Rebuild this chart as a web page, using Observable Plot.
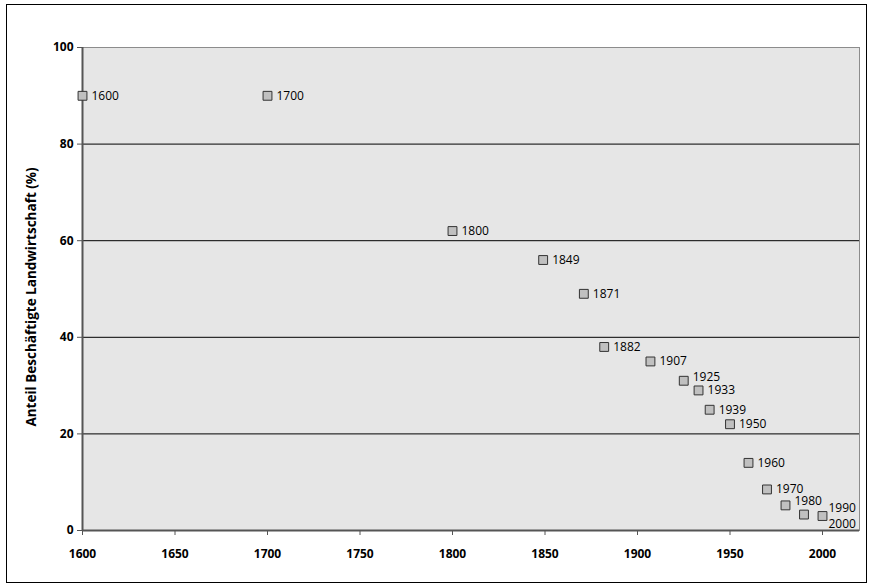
<!DOCTYPE html>
<html>
<head>
<meta charset="utf-8">
<script src="https://cdn.jsdelivr.net/npm/d3@7"></script>
<script src="https://cdn.jsdelivr.net/npm/@observablehq/plot@0.6"></script>
<style>
  body { margin: 0; background: #fff; }
  #chart svg { display: block; }
</style>
</head>
<body>
<div id="chart"></div>
<script>
const years = [1600, 1700, 1800, 1849, 1871, 1882, 1907, 1925, 1933, 1939, 1950, 1960, 1970, 1980, 1990, 2000];
const shares = [90, 90, 62, 56, 49, 38, 35, 31, 29, 25, 22, 14, 8.5, 5.2, 3.3, 3];
const xTicks = [1600, 1650, 1700, 1750, 1800, 1850, 1900, 1950, 2000];
const yTicks = [0, 20, 40, 60, 80, 100];
const gridValues = [20, 40, 60, 80];
const yLabel = "Anteil Beschäftigte Landwirtschaft (%)";

const data = years.map((y, i) => ({year: y, share: shares[i], label: String(y)}));
const normal = data.filter(d => d.year < 1990 && d.year !== 1925 && d.year !== 1980);
const raised = data.filter(d => d.year === 1925 || d.year === 1980);
const l1990 = data.filter(d => d.year === 1990);
const l2000 = data.filter(d => d.year === 2000);

const font = "'Open Sans', 'DejaVu Sans', sans-serif";

const chart = Plot.plot({
  width: 872,
  height: 587,
  marginLeft: 82,
  marginRight: 13,
  marginTop: 47,
  marginBottom: 57,
  style: {fontFamily: font, background: "#fff", color: "#000"},
  x: {domain: [1600, 2020]},
  y: {domain: [0, 100]},
  marks: [
    Plot.frame({fill: "#e6e6e6", stroke: "#8c8c8c"}),
    Plot.ruleY(gridValues, {stroke: "#000", strokeWidth: 1}),
    Plot.ruleX([1600], {stroke: "#555", strokeWidth: 2}),
    Plot.ruleY([0], {stroke: "#555", strokeWidth: 2}),
    Plot.axisY({ticks: yTicks, tickSize: 5, tickPadding: 4, label: null, fontWeight: "bold", fontSize: 12, stroke: "#555"}),
    Plot.axisX({ticks: xTicks, tickSize: 5, tickPadding: 14, label: null, tickFormat: d => String(d), fontWeight: "bold", fontSize: 12, stroke: "#555"}),
    Plot.text([yLabel], {frameAnchor: "left", textAnchor: "middle", rotate: -90, dx: -51, dy: 8, text: d => d, fontWeight: "bold", fontSize: 13.5}),
    Plot.dot(data, {x: "year", y: "share", symbol: "square", r: 5, fill: "#c0c0c0", stroke: "#333", strokeWidth: 1}),
    Plot.text(normal, {x: "year", y: "share", text: "label", textAnchor: "start", dx: 9, fontSize: 12}),
    Plot.text(raised, {x: "year", y: "share", text: "label", textAnchor: "start", dx: 9, dy: -4, fontSize: 12}),
    Plot.text(l1990, {x: () => 2000, y: "share", text: "label", textAnchor: "start", dx: 6, dy: -6, fontSize: 12}),
    Plot.text(l2000, {x: "year", y: "share", text: "label", textAnchor: "start", dx: 6, dy: 8, fontSize: 12})
  ]
});

d3.select(chart).append("rect")
  .attr("x", 6.5).attr("y", 4.5).attr("width", 860).attr("height", 578)
  .attr("fill", "none").attr("stroke", "#000").attr("stroke-width", 1);

document.getElementById("chart").appendChild(chart);
</script>
</body>
</html>
